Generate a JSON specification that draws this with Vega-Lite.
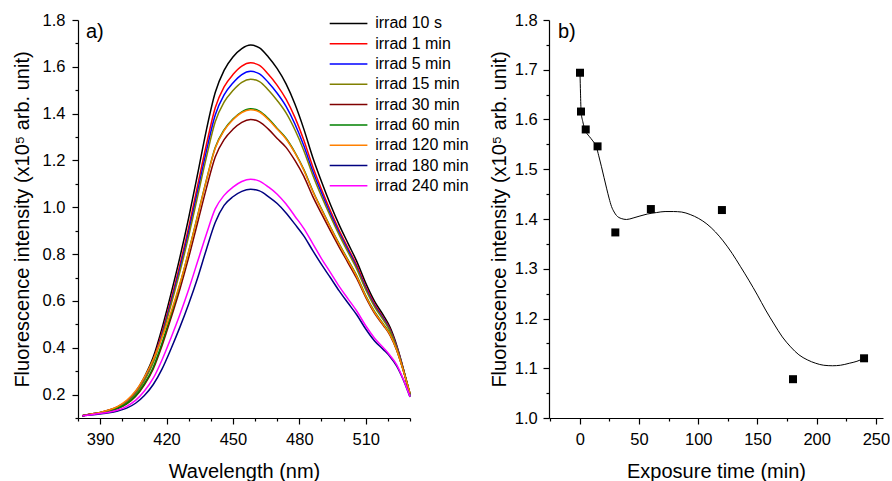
{
"$schema":"https://vega.github.io/schema/vega-lite/v6.json",
"background":"white",
"padding":{"left":12,"top":12,"right":0,"bottom":0},
"config":{
"view":{"stroke":null},
"font":"Liberation Sans",
"axis":{"domainColor":"black","domainWidth":1.2,"tickColor":"black","tickWidth":1.2,"tickSize":6,"labelColor":"black","titleColor":"black","labelFont":"Liberation Sans","titleFont":"Liberation Sans","labelFontSize":16.5,"titleFontSize":20,"titleFontWeight":"normal","grid":false,"labelOverlap":false,"labelFlush":false},
"title":{"font":"Liberation Sans","fontSize":20,"fontWeight":"normal","color":"black","anchor":"start","frame":"group","offset":0,"baseline":"alphabetic"}
},
"datasets":{
"spectra":[
{"s":"irrad 10 s","w":382,"v":0.110},{"s":"irrad 10 s","w":386,"v":0.117},{"s":"irrad 10 s","w":390,"v":0.124},{"s":"irrad 10 s","w":394,"v":0.134},{"s":"irrad 10 s","w":398,"v":0.148},{"s":"irrad 10 s","w":402,"v":0.172},{"s":"irrad 10 s","w":406,"v":0.212},{"s":"irrad 10 s","w":410,"v":0.275},{"s":"irrad 10 s","w":414,"v":0.360},{"s":"irrad 10 s","w":418,"v":0.485},{"s":"irrad 10 s","w":422,"v":0.630},{"s":"irrad 10 s","w":426,"v":0.785},{"s":"irrad 10 s","w":430,"v":0.955},{"s":"irrad 10 s","w":434,"v":1.140},{"s":"irrad 10 s","w":438,"v":1.330},{"s":"irrad 10 s","w":442,"v":1.490},{"s":"irrad 10 s","w":446,"v":1.585},{"s":"irrad 10 s","w":450,"v":1.642},{"s":"irrad 10 s","w":454,"v":1.678},{"s":"irrad 10 s","w":458,"v":1.693},{"s":"irrad 10 s","w":462,"v":1.681},{"s":"irrad 10 s","w":466,"v":1.642},{"s":"irrad 10 s","w":470,"v":1.592},{"s":"irrad 10 s","w":474,"v":1.527},{"s":"irrad 10 s","w":478,"v":1.441},{"s":"irrad 10 s","w":482,"v":1.335},{"s":"irrad 10 s","w":486,"v":1.215},{"s":"irrad 10 s","w":490,"v":1.110},{"s":"irrad 10 s","w":494,"v":1.013},{"s":"irrad 10 s","w":498,"v":0.925},{"s":"irrad 10 s","w":502,"v":0.846},{"s":"irrad 10 s","w":506,"v":0.768},{"s":"irrad 10 s","w":510,"v":0.676},{"s":"irrad 10 s","w":514,"v":0.598},{"s":"irrad 10 s","w":518,"v":0.538},{"s":"irrad 10 s","w":521,"v":0.487},{"s":"irrad 10 s","w":524,"v":0.410},{"s":"irrad 10 s","w":527,"v":0.310},{"s":"irrad 10 s","w":530,"v":0.192},
{"s":"irrad 1 min","w":382,"v":0.110},{"s":"irrad 1 min","w":386,"v":0.117},{"s":"irrad 1 min","w":390,"v":0.123},{"s":"irrad 1 min","w":394,"v":0.133},{"s":"irrad 1 min","w":398,"v":0.146},{"s":"irrad 1 min","w":402,"v":0.169},{"s":"irrad 1 min","w":406,"v":0.207},{"s":"irrad 1 min","w":410,"v":0.267},{"s":"irrad 1 min","w":414,"v":0.348},{"s":"irrad 1 min","w":418,"v":0.467},{"s":"irrad 1 min","w":422,"v":0.605},{"s":"irrad 1 min","w":426,"v":0.753},{"s":"irrad 1 min","w":430,"v":0.914},{"s":"irrad 1 min","w":434,"v":1.091},{"s":"irrad 1 min","w":438,"v":1.267},{"s":"irrad 1 min","w":442,"v":1.425},{"s":"irrad 1 min","w":446,"v":1.514},{"s":"irrad 1 min","w":450,"v":1.567},{"s":"irrad 1 min","w":454,"v":1.603},{"s":"irrad 1 min","w":458,"v":1.617},{"s":"irrad 1 min","w":462,"v":1.606},{"s":"irrad 1 min","w":466,"v":1.568},{"s":"irrad 1 min","w":470,"v":1.521},{"s":"irrad 1 min","w":474,"v":1.462},{"s":"irrad 1 min","w":478,"v":1.384},{"s":"irrad 1 min","w":482,"v":1.287},{"s":"irrad 1 min","w":486,"v":1.175},{"s":"irrad 1 min","w":490,"v":1.077},{"s":"irrad 1 min","w":494,"v":0.986},{"s":"irrad 1 min","w":498,"v":0.902},{"s":"irrad 1 min","w":502,"v":0.826},{"s":"irrad 1 min","w":506,"v":0.751},{"s":"irrad 1 min","w":510,"v":0.661},{"s":"irrad 1 min","w":514,"v":0.586},{"s":"irrad 1 min","w":518,"v":0.528},{"s":"irrad 1 min","w":521,"v":0.479},{"s":"irrad 1 min","w":524,"v":0.405},{"s":"irrad 1 min","w":527,"v":0.308},{"s":"irrad 1 min","w":530,"v":0.198},
{"s":"irrad 5 min","w":382,"v":0.110},{"s":"irrad 5 min","w":386,"v":0.117},{"s":"irrad 5 min","w":390,"v":0.123},{"s":"irrad 5 min","w":394,"v":0.132},{"s":"irrad 5 min","w":398,"v":0.145},{"s":"irrad 5 min","w":402,"v":0.168},{"s":"irrad 5 min","w":406,"v":0.205},{"s":"irrad 5 min","w":410,"v":0.263},{"s":"irrad 5 min","w":414,"v":0.342},{"s":"irrad 5 min","w":418,"v":0.458},{"s":"irrad 5 min","w":422,"v":0.593},{"s":"irrad 5 min","w":426,"v":0.737},{"s":"irrad 5 min","w":430,"v":0.895},{"s":"irrad 5 min","w":434,"v":1.067},{"s":"irrad 5 min","w":438,"v":1.239},{"s":"irrad 5 min","w":442,"v":1.394},{"s":"irrad 5 min","w":446,"v":1.480},{"s":"irrad 5 min","w":450,"v":1.531},{"s":"irrad 5 min","w":454,"v":1.567},{"s":"irrad 5 min","w":458,"v":1.581},{"s":"irrad 5 min","w":462,"v":1.570},{"s":"irrad 5 min","w":466,"v":1.533},{"s":"irrad 5 min","w":470,"v":1.487},{"s":"irrad 5 min","w":474,"v":1.431},{"s":"irrad 5 min","w":478,"v":1.356},{"s":"irrad 5 min","w":482,"v":1.264},{"s":"irrad 5 min","w":486,"v":1.156},{"s":"irrad 5 min","w":490,"v":1.062},{"s":"irrad 5 min","w":494,"v":0.973},{"s":"irrad 5 min","w":498,"v":0.891},{"s":"irrad 5 min","w":502,"v":0.817},{"s":"irrad 5 min","w":506,"v":0.742},{"s":"irrad 5 min","w":510,"v":0.654},{"s":"irrad 5 min","w":514,"v":0.580},{"s":"irrad 5 min","w":518,"v":0.523},{"s":"irrad 5 min","w":521,"v":0.475},{"s":"irrad 5 min","w":524,"v":0.403},{"s":"irrad 5 min","w":527,"v":0.307},{"s":"irrad 5 min","w":530,"v":0.200},
{"s":"irrad 15 min","w":382,"v":0.110},{"s":"irrad 15 min","w":386,"v":0.116},{"s":"irrad 15 min","w":390,"v":0.123},{"s":"irrad 15 min","w":394,"v":0.132},{"s":"irrad 15 min","w":398,"v":0.145},{"s":"irrad 15 min","w":402,"v":0.166},{"s":"irrad 15 min","w":406,"v":0.203},{"s":"irrad 15 min","w":410,"v":0.260},{"s":"irrad 15 min","w":414,"v":0.337},{"s":"irrad 15 min","w":418,"v":0.451},{"s":"irrad 15 min","w":422,"v":0.582},{"s":"irrad 15 min","w":426,"v":0.723},{"s":"irrad 15 min","w":430,"v":0.877},{"s":"irrad 15 min","w":434,"v":1.045},{"s":"irrad 15 min","w":438,"v":1.213},{"s":"irrad 15 min","w":442,"v":1.365},{"s":"irrad 15 min","w":446,"v":1.449},{"s":"irrad 15 min","w":450,"v":1.499},{"s":"irrad 15 min","w":454,"v":1.534},{"s":"irrad 15 min","w":458,"v":1.547},{"s":"irrad 15 min","w":462,"v":1.537},{"s":"irrad 15 min","w":466,"v":1.501},{"s":"irrad 15 min","w":470,"v":1.456},{"s":"irrad 15 min","w":474,"v":1.403},{"s":"irrad 15 min","w":478,"v":1.331},{"s":"irrad 15 min","w":482,"v":1.243},{"s":"irrad 15 min","w":486,"v":1.139},{"s":"irrad 15 min","w":490,"v":1.047},{"s":"irrad 15 min","w":494,"v":0.962},{"s":"irrad 15 min","w":498,"v":0.882},{"s":"irrad 15 min","w":502,"v":0.808},{"s":"irrad 15 min","w":506,"v":0.735},{"s":"irrad 15 min","w":510,"v":0.648},{"s":"irrad 15 min","w":514,"v":0.575},{"s":"irrad 15 min","w":518,"v":0.518},{"s":"irrad 15 min","w":521,"v":0.471},{"s":"irrad 15 min","w":524,"v":0.400},{"s":"irrad 15 min","w":527,"v":0.306},{"s":"irrad 15 min","w":530,"v":0.202},
{"s":"irrad 30 min","w":382,"v":0.110},{"s":"irrad 30 min","w":386,"v":0.116},{"s":"irrad 30 min","w":390,"v":0.121},{"s":"irrad 30 min","w":394,"v":0.129},{"s":"irrad 30 min","w":398,"v":0.140},{"s":"irrad 30 min","w":402,"v":0.160},{"s":"irrad 30 min","w":406,"v":0.192},{"s":"irrad 30 min","w":410,"v":0.242},{"s":"irrad 30 min","w":414,"v":0.310},{"s":"irrad 30 min","w":418,"v":0.410},{"s":"irrad 30 min","w":422,"v":0.526},{"s":"irrad 30 min","w":426,"v":0.649},{"s":"irrad 30 min","w":430,"v":0.785},{"s":"irrad 30 min","w":434,"v":0.933},{"s":"irrad 30 min","w":438,"v":1.081},{"s":"irrad 30 min","w":442,"v":1.215},{"s":"irrad 30 min","w":446,"v":1.289},{"s":"irrad 30 min","w":450,"v":1.333},{"s":"irrad 30 min","w":454,"v":1.363},{"s":"irrad 30 min","w":458,"v":1.375},{"s":"irrad 30 min","w":462,"v":1.365},{"s":"irrad 30 min","w":466,"v":1.334},{"s":"irrad 30 min","w":470,"v":1.294},{"s":"irrad 30 min","w":474,"v":1.256},{"s":"irrad 30 min","w":478,"v":1.200},{"s":"irrad 30 min","w":482,"v":1.133},{"s":"irrad 30 min","w":486,"v":1.048},{"s":"irrad 30 min","w":490,"v":0.973},{"s":"irrad 30 min","w":494,"v":0.900},{"s":"irrad 30 min","w":498,"v":0.830},{"s":"irrad 30 min","w":502,"v":0.763},{"s":"irrad 30 min","w":506,"v":0.695},{"s":"irrad 30 min","w":510,"v":0.615},{"s":"irrad 30 min","w":514,"v":0.547},{"s":"irrad 30 min","w":518,"v":0.495},{"s":"irrad 30 min","w":521,"v":0.453},{"s":"irrad 30 min","w":524,"v":0.389},{"s":"irrad 30 min","w":527,"v":0.302},{"s":"irrad 30 min","w":530,"v":0.205},
{"s":"irrad 60 min","w":382,"v":0.110},{"s":"irrad 60 min","w":386,"v":0.116},{"s":"irrad 60 min","w":390,"v":0.122},{"s":"irrad 60 min","w":394,"v":0.130},{"s":"irrad 60 min","w":398,"v":0.142},{"s":"irrad 60 min","w":402,"v":0.161},{"s":"irrad 60 min","w":406,"v":0.195},{"s":"irrad 60 min","w":410,"v":0.247},{"s":"irrad 60 min","w":414,"v":0.317},{"s":"irrad 60 min","w":418,"v":0.421},{"s":"irrad 60 min","w":422,"v":0.541},{"s":"irrad 60 min","w":426,"v":0.669},{"s":"irrad 60 min","w":430,"v":0.810},{"s":"irrad 60 min","w":434,"v":0.963},{"s":"irrad 60 min","w":438,"v":1.116},{"s":"irrad 60 min","w":442,"v":1.255},{"s":"irrad 60 min","w":446,"v":1.331},{"s":"irrad 60 min","w":450,"v":1.377},{"s":"irrad 60 min","w":454,"v":1.408},{"s":"irrad 60 min","w":458,"v":1.421},{"s":"irrad 60 min","w":462,"v":1.411},{"s":"irrad 60 min","w":466,"v":1.379},{"s":"irrad 60 min","w":470,"v":1.337},{"s":"irrad 60 min","w":474,"v":1.295},{"s":"irrad 60 min","w":478,"v":1.235},{"s":"irrad 60 min","w":482,"v":1.162},{"s":"irrad 60 min","w":486,"v":1.072},{"s":"irrad 60 min","w":490,"v":0.993},{"s":"irrad 60 min","w":494,"v":0.917},{"s":"irrad 60 min","w":498,"v":0.844},{"s":"irrad 60 min","w":502,"v":0.775},{"s":"irrad 60 min","w":506,"v":0.706},{"s":"irrad 60 min","w":510,"v":0.623},{"s":"irrad 60 min","w":514,"v":0.554},{"s":"irrad 60 min","w":518,"v":0.501},{"s":"irrad 60 min","w":521,"v":0.458},{"s":"irrad 60 min","w":524,"v":0.392},{"s":"irrad 60 min","w":527,"v":0.303},{"s":"irrad 60 min","w":530,"v":0.204},
{"s":"irrad 120 min","w":382,"v":0.110},{"s":"irrad 120 min","w":386,"v":0.117},{"s":"irrad 120 min","w":390,"v":0.124},{"s":"irrad 120 min","w":394,"v":0.134},{"s":"irrad 120 min","w":398,"v":0.150},{"s":"irrad 120 min","w":402,"v":0.175},{"s":"irrad 120 min","w":406,"v":0.215},{"s":"irrad 120 min","w":410,"v":0.275},{"s":"irrad 120 min","w":414,"v":0.350},{"s":"irrad 120 min","w":418,"v":0.445},{"s":"irrad 120 min","w":422,"v":0.552},{"s":"irrad 120 min","w":426,"v":0.672},{"s":"irrad 120 min","w":430,"v":0.810},{"s":"irrad 120 min","w":434,"v":0.961},{"s":"irrad 120 min","w":438,"v":1.114},{"s":"irrad 120 min","w":442,"v":1.252},{"s":"irrad 120 min","w":446,"v":1.328},{"s":"irrad 120 min","w":450,"v":1.374},{"s":"irrad 120 min","w":454,"v":1.405},{"s":"irrad 120 min","w":458,"v":1.417},{"s":"irrad 120 min","w":462,"v":1.407},{"s":"irrad 120 min","w":466,"v":1.375},{"s":"irrad 120 min","w":470,"v":1.334},{"s":"irrad 120 min","w":474,"v":1.292},{"s":"irrad 120 min","w":478,"v":1.232},{"s":"irrad 120 min","w":482,"v":1.159},{"s":"irrad 120 min","w":486,"v":1.069},{"s":"irrad 120 min","w":490,"v":0.990},{"s":"irrad 120 min","w":494,"v":0.914},{"s":"irrad 120 min","w":498,"v":0.841},{"s":"irrad 120 min","w":502,"v":0.772},{"s":"irrad 120 min","w":506,"v":0.703},{"s":"irrad 120 min","w":510,"v":0.620},{"s":"irrad 120 min","w":514,"v":0.551},{"s":"irrad 120 min","w":518,"v":0.498},{"s":"irrad 120 min","w":521,"v":0.456},{"s":"irrad 120 min","w":524,"v":0.391},{"s":"irrad 120 min","w":527,"v":0.302},{"s":"irrad 120 min","w":530,"v":0.205},
{"s":"irrad 180 min","w":382,"v":0.110},{"s":"irrad 180 min","w":386,"v":0.113},{"s":"irrad 180 min","w":390,"v":0.117},{"s":"irrad 180 min","w":394,"v":0.122},{"s":"irrad 180 min","w":398,"v":0.130},{"s":"irrad 180 min","w":402,"v":0.142},{"s":"irrad 180 min","w":406,"v":0.163},{"s":"irrad 180 min","w":410,"v":0.196},{"s":"irrad 180 min","w":414,"v":0.243},{"s":"irrad 180 min","w":418,"v":0.310},{"s":"irrad 180 min","w":422,"v":0.395},{"s":"irrad 180 min","w":426,"v":0.487},{"s":"irrad 180 min","w":430,"v":0.587},{"s":"irrad 180 min","w":434,"v":0.697},{"s":"irrad 180 min","w":438,"v":0.820},{"s":"irrad 180 min","w":442,"v":0.935},{"s":"irrad 180 min","w":446,"v":1.008},{"s":"irrad 180 min","w":450,"v":1.045},{"s":"irrad 180 min","w":454,"v":1.068},{"s":"irrad 180 min","w":458,"v":1.077},{"s":"irrad 180 min","w":462,"v":1.070},{"s":"irrad 180 min","w":466,"v":1.046},{"s":"irrad 180 min","w":470,"v":1.016},{"s":"irrad 180 min","w":474,"v":0.976},{"s":"irrad 180 min","w":478,"v":0.928},{"s":"irrad 180 min","w":482,"v":0.878},{"s":"irrad 180 min","w":486,"v":0.816},{"s":"irrad 180 min","w":490,"v":0.756},{"s":"irrad 180 min","w":494,"v":0.700},{"s":"irrad 180 min","w":498,"v":0.643},{"s":"irrad 180 min","w":502,"v":0.591},{"s":"irrad 180 min","w":506,"v":0.540},{"s":"irrad 180 min","w":510,"v":0.480},{"s":"irrad 180 min","w":514,"v":0.429},{"s":"irrad 180 min","w":518,"v":0.392},{"s":"irrad 180 min","w":521,"v":0.362},{"s":"irrad 180 min","w":524,"v":0.322},{"s":"irrad 180 min","w":527,"v":0.263},{"s":"irrad 180 min","w":530,"v":0.190},
{"s":"irrad 240 min","w":382,"v":0.110},{"s":"irrad 240 min","w":386,"v":0.114},{"s":"irrad 240 min","w":390,"v":0.119},{"s":"irrad 240 min","w":394,"v":0.125},{"s":"irrad 240 min","w":398,"v":0.134},{"s":"irrad 240 min","w":402,"v":0.150},{"s":"irrad 240 min","w":406,"v":0.175},{"s":"irrad 240 min","w":410,"v":0.215},{"s":"irrad 240 min","w":414,"v":0.270},{"s":"irrad 240 min","w":418,"v":0.349},{"s":"irrad 240 min","w":422,"v":0.442},{"s":"irrad 240 min","w":426,"v":0.541},{"s":"irrad 240 min","w":430,"v":0.649},{"s":"irrad 240 min","w":434,"v":0.767},{"s":"irrad 240 min","w":438,"v":0.885},{"s":"irrad 240 min","w":442,"v":0.993},{"s":"irrad 240 min","w":446,"v":1.051},{"s":"irrad 240 min","w":450,"v":1.086},{"s":"irrad 240 min","w":454,"v":1.110},{"s":"irrad 240 min","w":458,"v":1.120},{"s":"irrad 240 min","w":462,"v":1.112},{"s":"irrad 240 min","w":466,"v":1.087},{"s":"irrad 240 min","w":470,"v":1.056},{"s":"irrad 240 min","w":474,"v":1.014},{"s":"irrad 240 min","w":478,"v":0.962},{"s":"irrad 240 min","w":482,"v":0.910},{"s":"irrad 240 min","w":486,"v":0.846},{"s":"irrad 240 min","w":490,"v":0.781},{"s":"irrad 240 min","w":494,"v":0.722},{"s":"irrad 240 min","w":498,"v":0.662},{"s":"irrad 240 min","w":502,"v":0.609},{"s":"irrad 240 min","w":506,"v":0.556},{"s":"irrad 240 min","w":510,"v":0.494},{"s":"irrad 240 min","w":514,"v":0.441},{"s":"irrad 240 min","w":518,"v":0.400},{"s":"irrad 240 min","w":521,"v":0.367},{"s":"irrad 240 min","w":524,"v":0.327},{"s":"irrad 240 min","w":527,"v":0.265},{"s":"irrad 240 min","w":530,"v":0.191}
],
"pts":[
{"t":0.17,"v":1.694},{"t":1,"v":1.616},{"t":5,"v":1.580},{"t":15,"v":1.546},{"t":30,"v":1.373},{"t":60,"v":1.420},{"t":120,"v":1.418},{"t":180,"v":1.078},{"t":240,"v":1.120}
],
"curve":[
{"t":0.17,"v":1.694},{"t":0.6,"v":1.653},{"t":1.1,"v":1.616},{"t":2.5,"v":1.596},{"t":4.5,"v":1.579},{"t":8,"v":1.566},{"t":11,"v":1.557},{"t":14,"v":1.545},{"t":16,"v":1.527},{"t":18.3,"v":1.505},{"t":20.5,"v":1.483},{"t":22.6,"v":1.462},{"t":24.7,"v":1.442},{"t":26.8,"v":1.425},{"t":29,"v":1.414},{"t":31,"v":1.407},{"t":35,"v":1.401},{"t":39.5,"v":1.399},{"t":45,"v":1.402},{"t":50.8,"v":1.406},{"t":57,"v":1.410},{"t":64.9,"v":1.413},{"t":72,"v":1.415},{"t":79,"v":1.415},{"t":86,"v":1.414},{"t":93.2,"v":1.409},{"t":100.4,"v":1.401},{"t":107.3,"v":1.390},{"t":114.5,"v":1.374},{"t":121,"v":1.356},{"t":128.6,"v":1.331},{"t":135.5,"v":1.305},{"t":142.7,"v":1.277},{"t":150,"v":1.247},{"t":156.9,"v":1.217},{"t":164,"v":1.189},{"t":171,"v":1.163},{"t":178,"v":1.143},{"t":185,"v":1.127},{"t":192,"v":1.117},{"t":199.2,"v":1.110},{"t":206,"v":1.106},{"t":213.4,"v":1.105},{"t":220,"v":1.106},{"t":227.5,"v":1.110},{"t":234,"v":1.114},{"t":240,"v":1.120}
]
},
"bounds":"flush",
"spacing":139,
"hconcat":[
{
"width":332,"height":398,
"title":{"text":"a)","dx":8,"dy":34},
"data":{"name":"spectra"},
"mark":{"type":"line","strokeWidth":1.5,"interpolate":"monotone"},
"encoding":{
"x":{"field":"w","type":"quantitative","scale":{"domain":[380,530],"nice":false,"zero":false},
"axis":{"title":"Wavelength (nm)","values":[380,390,400,410,420,430,440,450,460,470,480,490,500,510,520,530],"labelExpr":"datum.value % 30 == 0 ? datum.label : ''","tickSize":{"condition":{"test":"datum.value % 30 == 0","value":6},"value":3},"labelPadding":7,"titlePadding":14}},
"y":{"field":"v","type":"quantitative","scale":{"domain":[0.1,1.8],"nice":false,"zero":false},
"axis":{"title":"Fluorescence intensity (x10⁵ arb. unit)","values":[0.1,0.2,0.3,0.4,0.5,0.6,0.7,0.8,0.9,1.0,1.1,1.2,1.3,1.4,1.5,1.6,1.7,1.8],"format":".1f","labelExpr":"round(datum.value*10) % 2 == 0 ? datum.label : ''","tickSize":{"condition":{"test":"round(datum.value*10) % 2 == 0","value":6},"value":3},"labelPadding":7,"titlePadding":10}},
"color":{"field":"s","type":"nominal","sort":null,
"scale":{"domain":["irrad 10 s","irrad 1 min","irrad 5 min","irrad 15 min","irrad 30 min","irrad 60 min","irrad 120 min","irrad 180 min","irrad 240 min"],"range":["#000000","#ff0000","#0000ff","#808000","#800000","#008000","#ff8000","#000080","#ff00ff"]},
"legend":{"orient":"none","legendX":250.2,"legendY":-4.6,"title":null,"symbolType":"M-1,0H4.8","symbolSize":169,"symbolStrokeWidth":1.5,"labelFontSize":16,"labelFont":"Liberation Sans","labelColor":"black","labelOffset":31,"rowPadding":4.3,"padding":0,"labelLimit":200}}
}
},
{
"width":334,"height":398,
"title":{"text":"b)","dx":9,"dy":34},
"encoding":{
"x":{"field":"t","type":"quantitative","scale":{"domain":[-26,256],"nice":false,"zero":false},
"axis":{"title":"Exposure time (min)","values":[-25,0,25,50,75,100,125,150,175,200,225,250],"labelExpr":"datum.value == 0 || datum.value == 50 || datum.value == 100 || datum.value == 150 || datum.value == 200 || datum.value == 250 ? datum.label : ''","tickSize":{"condition":{"test":"datum.value == 0 || datum.value == 50 || datum.value == 100 || datum.value == 150 || datum.value == 200 || datum.value == 250","value":6},"value":3},"labelPadding":7,"titlePadding":14}},
"y":{"field":"v","type":"quantitative","scale":{"domain":[1.0,1.8],"nice":false,"zero":false},
"axis":{"title":"Fluorescence intensity (x10⁵ arb. unit)","values":[1.0,1.05,1.1,1.15,1.2,1.25,1.3,1.35,1.4,1.45,1.5,1.55,1.6,1.65,1.7,1.75,1.8],"format":".1f","labelExpr":"round(datum.value*100) % 10 == 0 ? datum.label : ''","tickSize":{"condition":{"test":"round(datum.value*100) % 10 == 0","value":6},"value":3},"labelPadding":5.7,"titlePadding":5}}
},
"layer":[
{"data":{"name":"curve"},"mark":{"type":"line","color":"black","strokeWidth":1,"interpolate":"monotone"}},
{"data":{"name":"pts"},"mark":{"type":"point","shape":"square","filled":true,"color":"black","size":64,"opacity":1}}
]
}
]
}
